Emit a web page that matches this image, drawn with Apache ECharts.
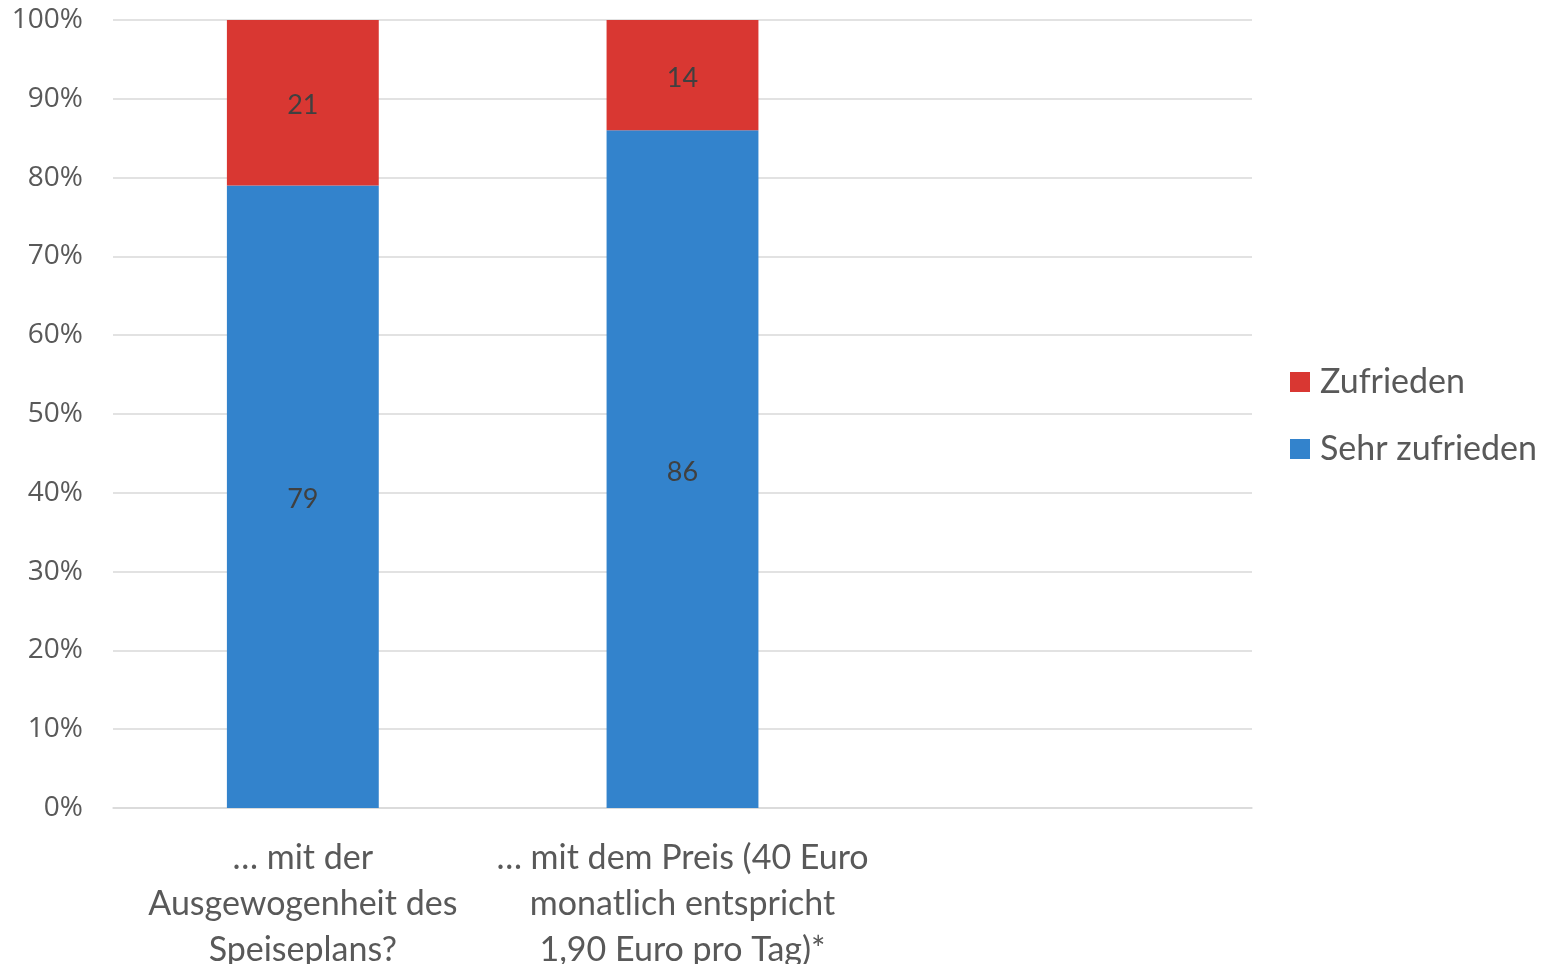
<!DOCTYPE html>
<html><head><meta charset="utf-8">
<script src="https://cdn.jsdelivr.net/npm/echarts@6/dist/echarts.min.js"></script>
<style>html,body{margin:0;padding:0;background:#fff}#c{width:1547px;height:964px}</style>
</head><body><div id="c"></div>
<script>
const categories = ['… mit der\nAusgewogenheit des\nSpeiseplans?', '… mit dem Preis (40 Euro\nmonatlich entspricht\n1,90 Euro pro Tag)*', ''];
const sehrZufrieden = [79, 86, null];
const zufrieden = [21, 14, null];
const yTicks = {min: 0, max: 100, interval: 10};

const chart = echarts.init(document.getElementById('c'));
const lbl = {show: true, position: 'inside', offset: [0, 3], color: '#404040', fontSize: 27, fontFamily: 'Lato'};
chart.setOption({
  animation: false,
  grid: {left: 113, right: 295, top: 20, bottom: 156, outerBoundsMode: 'none', containLabel: false},
  legend: {
    orient: 'vertical', left: 1285, top: 360, itemWidth: 20, itemHeight: 20, itemGap: 33,
    data: ['Zufrieden', 'Sehr zufrieden'],
    textStyle: {fontSize: 34, color: '#595959', fontFamily: 'Lato', padding: [0, 0, 0, 5]},
    icon: 'rect'
  },
  xAxis: {
    type: 'category', data: categories,
    axisLine: {lineStyle: {color: '#d9d9d9', width: 1.5}}, axisTick: {show: false},
    axisLabel: {fontSize: 34, color: '#595959', fontFamily: 'Lato', lineHeight: 46, margin: 27, interval: 0}
  },
  yAxis: {
    type: 'value', min: yTicks.min, max: yTicks.max, interval: yTicks.interval,
    axisLabel: {formatter: '{value}%', fontSize: 28, color: '#595959', fontFamily: 'Open Sans', margin: 30},
    splitLine: {lineStyle: {color: '#d9d9d9', width: 1.5}},
    axisLine: {show: false}, axisTick: {show: false}
  },
  series: [
    {name: 'Sehr zufrieden', type: 'bar', stack: 's', data: sehrZufrieden, barWidth: '40%',
     itemStyle: {color: '#3383CC'}, label: lbl},
    {name: 'Zufrieden', type: 'bar', stack: 's', data: zufrieden, barWidth: '40%',
     itemStyle: {color: '#D93732'}, label: lbl}
  ]
});
</script></body></html>
